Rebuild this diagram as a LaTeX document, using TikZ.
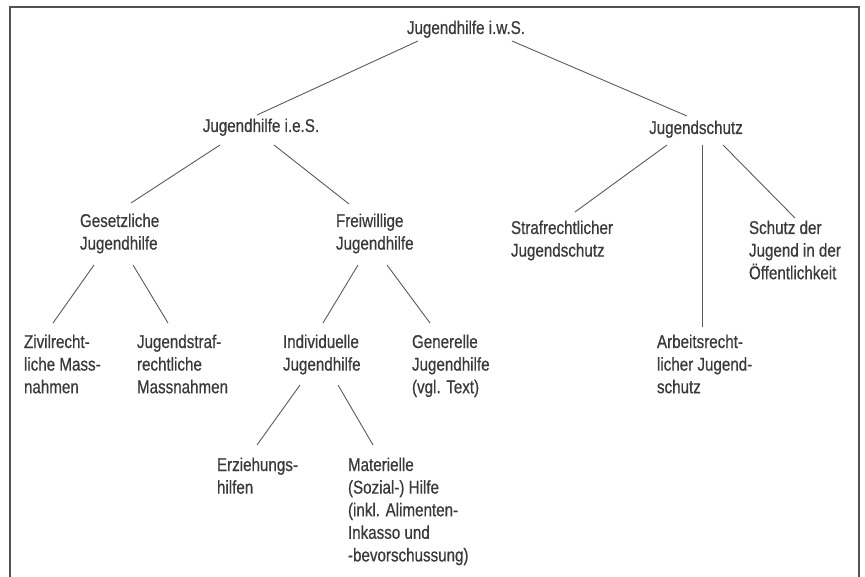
\documentclass[tikz,border=0pt]{standalone}
\usepackage{fontspec}
\setmainfont[FakeStretch=0.82,FakeBold=0.6]{Liberation Sans}
\definecolor{txt}{HTML}{3A3A3A}
\definecolor{ln}{HTML}{5A5A5A}
\begin{document}
\begin{tikzpicture}[x=1pt,y=-1pt,
  lbl/.style={inner sep=0pt, outer sep=0pt, text=txt, align=left,
    font=\fontsize{18.5}{22.6}\selectfont},
  conn/.style={draw=ln, line width=0.9pt},
  frame/.style={draw=ln!90!black, line width=1.4pt}]
\useasboundingbox (0,0) rectangle (865,577);
\draw[frame] (10,582) -- (10,7) -- (859,7) -- (859,582);

% single-line nodes: anchor at baseline; multi-line nodes: anchor at baseline of last line
\node[lbl, anchor=base] (root) at (466,34) {Jugendhilfe i.w.S.};
\node[lbl, anchor=base] (ies) at (261,132) {Jugendhilfe i.e.S.};
\node[lbl, anchor=base] (js) at (696,134) {Jugendschutz};
\node[lbl, anchor=base west] (ges) at (80,249.6) {Gesetzliche\\Jugendhilfe};
\node[lbl, anchor=base west] (frei) at (336,249.6) {Freiwillige\\Jugendhilfe};
\node[lbl, anchor=base west] (straf) at (511,256.6) {Strafrechtlicher\\Jugendschutz};
\node[lbl, anchor=base west] (schutz) at (749,279.2) {Schutz der\\Jugend in der\\Öffentlichkeit};
\node[lbl, anchor=base west] (arb) at (657,393.2) {Arbeitsrecht-\\licher Jugend-\\schutz};
\node[lbl, anchor=base west] (ziv) at (24,393.2) {Zivilrecht-\\liche Mass-\\nahmen};
\node[lbl, anchor=base west] (jstraf) at (137,393.2) {Jugendstraf-\\rechtliche\\Massnahmen};
\node[lbl, anchor=base west] (indiv) at (283,370.6) {Individuelle\\Jugendhilfe};
\node[lbl, anchor=base west] (gen) at (412,393.2) {Generelle\\Jugendhilfe\\(vgl. Text)};
\node[lbl, anchor=base west] (erz) at (217,493.6) {Erziehungs-\\hilfen};
\node[lbl, anchor=base west] (mat) at (348,561.4) {Materielle\\(Sozial-) Hilfe\\(inkl. Alimenten-\\Inkasso und\\-bevorschussung)};

\draw[conn] ([shift={(-48,7)}]root.base) -- ([shift={(-4,-17)}]ies.base);
\draw[conn] ([shift={(46,7)}]root.base) -- ([shift={(-9,-18)}]js.base);
\draw[conn] ([shift={(-41,13)}]ies.base) -- ([shift={(51,-46.6)}]ges.base west);
\draw[conn] ([shift={(13,13)}]ies.base) -- ([shift={(13,-45.6)}]frei.base west);
\draw[conn] ([shift={(14,15.4)}]ges.base west) -- ([shift={(29,-70.2)}]ziv.base west);
\draw[conn] ([shift={(53,15.4)}]ges.base west) -- ([shift={(31,-70.2)}]jstraf.base west);
\draw[conn] ([shift={(22,15.4)}]frei.base west) -- ([shift={(40,-47.6)}]indiv.base west);
\draw[conn] ([shift={(51,15.4)}]frei.base west) -- ([shift={(18,-70.2)}]gen.base west);
\draw[conn] ([shift={(17,14.4)}]indiv.base west) -- ([shift={(40,-48.6)}]erz.base west);
\draw[conn] ([shift={(55,14.4)}]indiv.base west) -- ([shift={(25,-116.4)}]mat.base west);
\draw[conn] ([shift={(-29,11)}]js.base) -- ([shift={(64,-44.6)}]straf.base west);
\draw[conn] ([shift={(6,11)}]js.base) -- ([shift={(45,-66.2)}]arb.base west);
\draw[conn] ([shift={(27,11)}]js.base) -- ([shift={(46,-61.2)}]schutz.base west);
\end{tikzpicture}
\end{document}
